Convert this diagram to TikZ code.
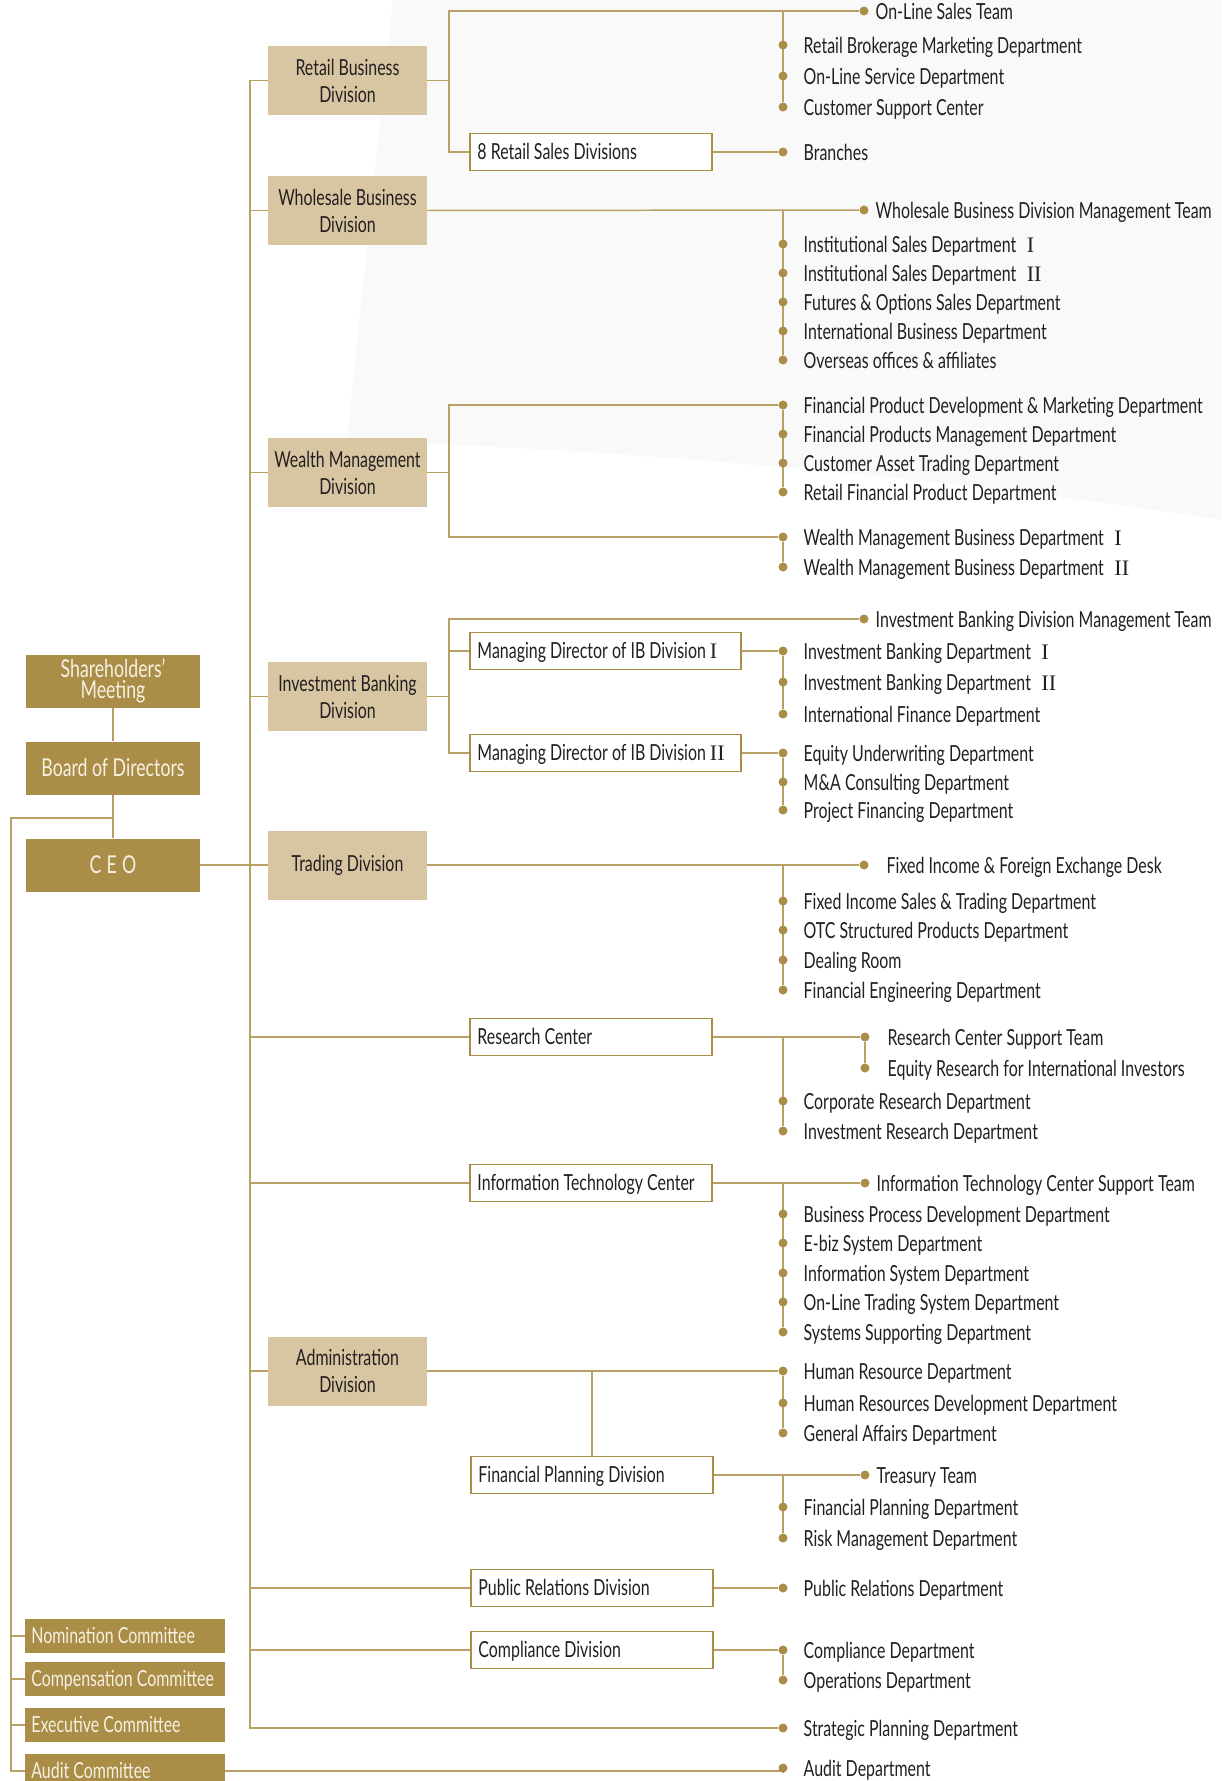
\documentclass[tikz,border=0pt]{standalone}
\usepackage{fontspec}
\setmainfont{Lato}[FakeStretch=0.72]
\newfontfamily\numfont{Liberation Serif}
\usetikzlibrary{backgrounds}
\definecolor{gold}{HTML}{AA8D47}
\definecolor{tan}{HTML}{D8C6A3}
\definecolor{wire}{HTML}{B9A064}
\definecolor{ink}{HTML}{231F20}
\definecolor{cream}{HTML}{F6F1E3}
\definecolor{haze}{HTML}{F9F9F9}

\begin{document}
\begin{tikzpicture}[x=0.02cm, y=-0.02cm, font=\fontsize{12.6}{15.3}\selectfont, text=ink,
        topbox/.style={fill=gold, text=cream, font=\fontsize{14}{15}\selectfont, minimum width=3.48cm, minimum height=1.06cm, inner sep=0pt, align=center},
        cmtbox/.style={fill=gold, text=cream, minimum height=0.68cm, inner xsep=0.12cm, inner ysep=0pt, anchor=west, text width=3.75cm, align=flush left, text height=8pt, text depth=0pt},
        divbox/.style={fill=tan, minimum width=3.18cm, minimum height=1.38cm, inner sep=0pt, align=center},
        subbox/.style={draw=gold, line width=1.1pt, fill=white, minimum height=0.74cm, inner xsep=0.15cm, inner ysep=0pt, anchor=west, text width=#1, align=flush left, text height=8pt, text depth=0pt},
        link/.style={draw=wire, line width=0.85pt},
        dot/.style={circle, fill=gold, inner sep=0pt, minimum size=0.18cm},
        dept/.style={xshift=0.31cm},
        team/.style={xshift=0.13cm},
        desk/.style={xshift=0.35cm},
        every label/.style={inner sep=0pt, text height=10pt, text depth=0pt}]
        \useasboundingbox (0,0) rectangle (1221,1781);
        \node[topbox] (share) at (113,681) {Shareholders’\\[-3pt]Meeting};
        \node[topbox] (board) at (113,768) {Board of Directors};
        \node[topbox] (ceo)   at (113,865) {C\hspace{3pt}E\hspace{3pt}O};
        \node[cmtbox] (nomi)  at (25,1636) {Nomination Committee};
        \node[cmtbox] (comp)  at (25,1679) {Compensation Committee};
        \node[cmtbox] (exec)  at (25,1725) {Executive Committee};
        \node[cmtbox] (audit) at (25,1771) {Audit Committee};

        \node[divbox] (retail) at (347.5,80.5)  {Retail Business\\Division};
        \node[divbox] (whole)  at (347.5,210.5) {Wholesale Business\\Division};
        \node[divbox] (wealth) at (347.5,472.5) {Wealth Management\\Division};
        \node[divbox] (ibd)    at (347.5,696.5) {Investment Banking\\Division};
        \node[divbox] (trade)  at (347.5,865)   {Trading Division};
        \node[divbox] (admin)  at (347.5,1371)  {Administration\\Division};

        \node[subbox=4.54cm] (rsales) at (469,152)  {8 Retail Sales Divisions};
        \node[subbox=5.12cm] (mdone)  at (469,651)  {Managing Director of IB Division {\numfont I}};
        \node[subbox=5.12cm] (mdtwo)  at (469,753)  {Managing Director of IB Division {\numfont II}};
        \node[subbox=4.54cm] (rsch)   at (469,1037) {Research Center};
        \node[subbox=4.54cm] (itc)    at (469,1183) {Information Technology Center};
        \node[subbox=4.54cm] (fpd)    at (470,1475) {Financial Planning Division};
        \node[subbox=4.54cm] (prd)    at (470,1588) {Public Relations Division};
        \node[subbox=4.54cm] (cpd)    at (470,1650) {Compliance Division};

        \node[dot, label={[team]right:On-Line Sales Team}] (olst) at (864,11) {};
        \node[dot, label={[dept]right:Retail Brokerage Marketing Department}] (rb1) at (783,45) {};
        \node[dot, label={[dept]right:On-Line Service Department}] (rb2) at (783,76) {};
        \node[dot, label={[dept]right:Customer Support Center}] (rb3) at (783,107) {};
        \node[dot, label={[dept]right:Branches}] (brch) at (783,152) {};

        \node[dot, label={[team]right:Wholesale Business Division Management Team}] (wbmt) at (864,210) {};
        \node[dot, label={[dept]right:Institutional Sales Department\hspace{6pt}{\numfont I}}] (w1) at (783,244) {};
        \node[dot, label={[dept]right:Institutional Sales Department\hspace{6pt}{\numfont II}}] (w2) at (783,273) {};
        \node[dot, label={[dept]right:Futures \& Options Sales Department}] (w3) at (783,302) {};
        \node[dot, label={[dept]right:International Business Department}] (w4) at (783,331) {};
        \node[dot, label={[dept]right:Overseas offices \& affiliates}] (w5) at (783,360) {};

        \node[dot, label={[dept]right:Financial Product Development \& Marketing Department}] (m1) at (783,405) {};
        \node[dot, label={[dept]right:Financial Products Management Department}] (m2) at (783,434) {};
        \node[dot, label={[dept]right:Customer Asset Trading Department}] (m3) at (783,463) {};
        \node[dot, label={[dept]right:Retail Financial Product Department}] (m4) at (783,492) {};
        \node[dot, label={[dept]right:Wealth Management Business Department\hspace{6pt}{\numfont I}}] (m5) at (783,537) {};
        \node[dot, label={[dept]right:Wealth Management Business Department\hspace{6pt}{\numfont II}}] (m6) at (783,567) {};

        \node[dot, label={[team]right:Investment Banking Division Management Team}] (ibmt) at (864,619) {};
        \node[dot, label={[dept]right:Investment Banking Department\hspace{6pt}{\numfont I}}] (i1) at (783,651) {};
        \node[dot, label={[dept]right:Investment Banking Department\hspace{6pt}{\numfont II}}] (i2) at (783,682) {};
        \node[dot, label={[dept]right:International Finance Department}] (i3) at (783,714) {};
        \node[dot, label={[dept]right:Equity Underwriting Department}] (i4) at (783,753) {};
        \node[dot, label={[dept]right:M\&A Consulting Department}] (i5) at (783,782) {};
        \node[dot, label={[dept]right:Project Financing Department}] (i6) at (783,810) {};

        \node[dot, label={[desk]right:Fixed Income \& Foreign Exchange Desk}] (fxd) at (864,865) {};
        \node[dot, label={[dept]right:Fixed Income Sales \& Trading Department}] (t1) at (783,901) {};
        \node[dot, label={[dept]right:OTC Structured Products Department}] (t2) at (783,930) {};
        \node[dot, label={[dept]right:Dealing Room}] (t3) at (783,960) {};
        \node[dot, label={[dept]right:Financial Engineering Department}] (t4) at (783,990) {};

        \node[dot, label={[desk]right:Research Center Support Team}] (rcst) at (865,1037) {};
        \node[dot, label={[desk]right:Equity Research for International Investors}] (erii) at (865,1068) {};
        \node[dot, label={[dept]right:Corporate Research Department}] (c1) at (783,1101) {};
        \node[dot, label={[dept]right:Investment Research Department}] (c2) at (783,1131) {};

        \node[dot, label={[team]right:Information Technology Center Support Team}] (itst) at (865,1183) {};
        \node[dot, label={[dept]right:Business Process Development Department}] (it1) at (783,1214) {};
        \node[dot, label={[dept]right:E-biz System Department}] (it2) at (783,1243) {};
        \node[dot, label={[dept]right:Information System Department}] (it3) at (783,1273) {};
        \node[dot, label={[dept]right:On-Line Trading System Department}] (it4) at (783,1302) {};
        \node[dot, label={[dept]right:Systems Supporting Department}] (it5) at (783,1332) {};

        \node[dot, label={[dept]right:Human Resource Department}] (a1) at (783,1371) {};
        \node[dot, label={[dept]right:Human Resources Development Department}] (a2) at (783,1403) {};
        \node[dot, label={[dept]right:General Affairs Department}] (a3) at (783,1433) {};
        \node[dot, label={[team]right:Treasury Team}] (trsy) at (865,1475) {};
        \node[dot, label={[dept]right:Financial Planning Department}] (f1) at (783,1507) {};
        \node[dot, label={[dept]right:Risk Management Department}] (f2) at (783,1538) {};
        \node[dot, label={[dept]right:Public Relations Department}] (p1) at (783,1588) {};
        \node[dot, label={[dept]right:Compliance Department}] (k1) at (783,1650) {};
        \node[dot, label={[dept]right:Operations Department}] (k2) at (783,1680) {};
        \node[dot, label={[dept]right:Strategic Planning Department}] (sp) at (783,1728) {};
        \node[dot, label={[dept]right:Audit Department}] (ad) at (783,1768) {};

        \coordinate (split) at (113,818);
        \coordinate (cbar)  at (11,818);
        \coordinate (ttop)  at (250,80.5);
        \coordinate (rtop)  at (449,11);
        \coordinate (wtop)  at (449,405);
        \coordinate (itop)  at (449,619);

        \begin{scope}[on background layer]
            \fill[white] (0,0) rectangle (1221,1781);
            \fill[haze] (393,0) -- (1221,0) -- (1221,520) .. controls (900,470) and (600,450) .. (347,440) -- cycle;
            \draw[link] (share) -- (board) -- (ceo);
            \draw[link] (split) -- (cbar) |- (audit.west);
            \draw[link] (cbar |- nomi) -- (nomi.west);
            \draw[link] (cbar |- comp) -- (comp.west);
            \draw[link] (cbar |- exec) -- (exec.west);
            \draw[link] (audit.east) -- (audit.east -| ad) -- (ad);

            \draw[link] (retail.west) -- (ttop) |- (sp);
            \draw[link] (ceo.east) -- (trade.west);
            \draw[link] (whole.west -| ttop) -- (whole.west);
            \draw[link] (wealth.west -| ttop) -- (wealth.west);
            \draw[link] (ibd.west -| ttop) -- (ibd.west);
            \draw[link] (admin.west -| ttop) -- (admin.west);
            \draw[link] (rsch.west -| ttop) -- (rsch.west);
            \draw[link] (itc.west -| ttop) -- (itc.west);
            \draw[link] (prd.west -| ttop) -- (prd.west);
            \draw[link] (cpd.west -| ttop) -- (cpd.west);

            \draw[link] (retail.east) -- (retail.east -| rtop);
            \draw[link] (olst) -- (rtop) |- (rsales.west);
            \draw[link] (rb3) -- (rb3 |- olst);
            \draw[link] (rsales.east) -- (brch);

            \draw[link] (whole.east) -- (wbmt);
            \draw[link] (w5) -- (w5 |- wbmt);

            \draw[link] (wealth.east) -- (wealth.east -| wtop);
            \draw[link] (m1) -- (wtop) |- (m5);
            \draw[link] (m1) -- (m4);
            \draw[link] (m5) -- (m6);

            \draw[link] (ibd.east) -- (ibd.east -| itop);
            \draw[link] (ibmt) -- (itop) |- (mdtwo.west);
            \draw[link] (mdone.west -| itop) -- (mdone.west);
            \draw[link] (mdone.east) -- (i1) -- (i3);
            \draw[link] (mdtwo.east) -- (i4) -- (i6);

            \draw[link] (trade.east) -- (fxd);
            \draw[link] (t4) -- (t4 |- fxd);

            \draw[link] (rsch.east) -- (rcst) -- (erii);
            \draw[link] (c2) -- (c2 |- rcst);

            \draw[link] (itc.east) -- (itst);
            \draw[link] (it5) -- (it5 |- itst);

            \draw[link] (admin.east) -- (a1) -- (a3);
            \draw[link] (fpd.north) -- (fpd.north |- a1);
            \draw[link] (fpd.east) -- (trsy);
            \draw[link] (f2) -- (f2 |- trsy);
            \draw[link] (prd.east) -- (p1);
            \draw[link] (cpd.east) -- (k1) -- (k2);
        \end{scope}
\end{tikzpicture}
\end{document}
